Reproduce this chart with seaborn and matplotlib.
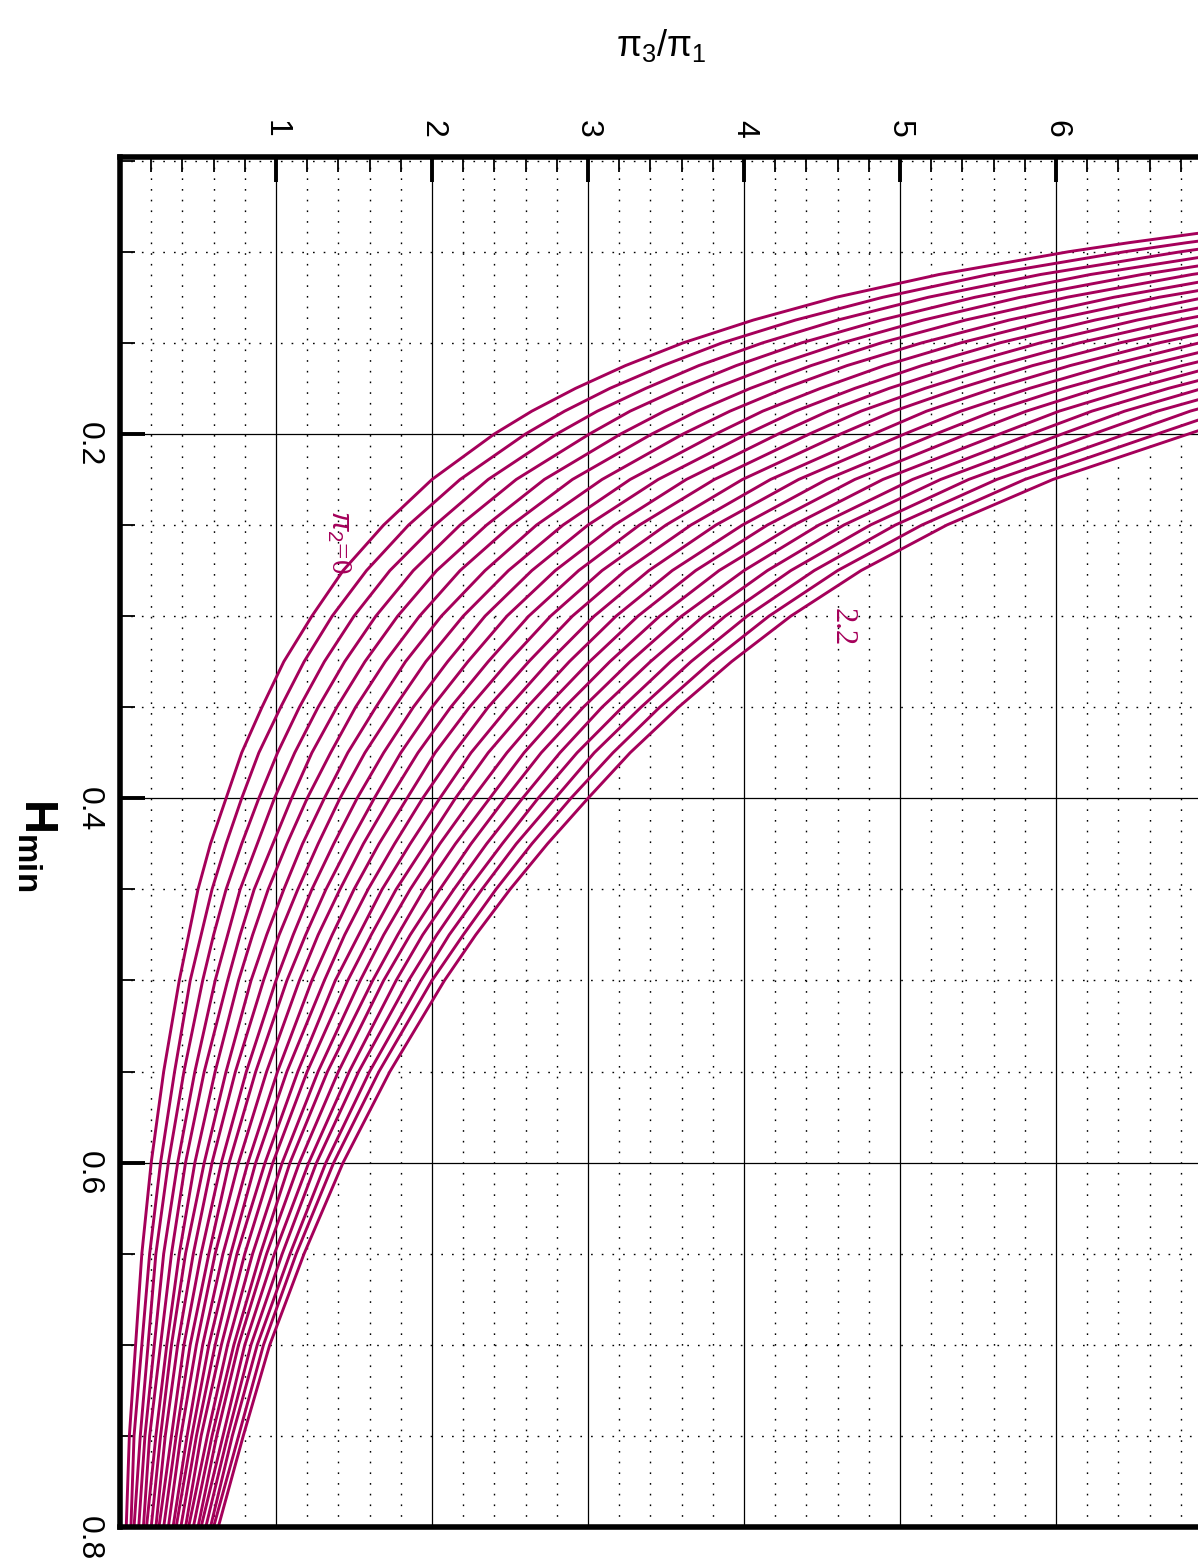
import numpy as np
import pandas as pd
import seaborn as sns
import matplotlib.pyplot as plt
from matplotlib.ticker import MultipleLocator

nan = np.nan

# curve family: pi2 = 0 ... 2.2
pi2_values = [0.0, 0.1, 0.2, 0.3, 0.4, 0.5, 0.6, 0.7, 0.8, 0.9, 1.0, 1.1,
              1.2, 1.3, 1.4, 1.5, 1.6, 1.7, 1.8, 1.9, 2.0, 2.1, 2.2]

# H_min levels where the curves were read
h_rows = [0.8, 0.75, 0.7, 0.65, 0.6, 0.55, 0.5, 0.475, 0.45, 0.425, 0.4, 0.375,
          0.35, 0.325, 0.3, 0.275, 0.25, 0.225, 0.2, 0.1875, 0.175, 0.1625,
          0.15, 0.1375, 0.125, 0.1125, 0.1, 0.095, 0.09, 0.08]

# pi3/pi1 of each curve at each H_min level (one list per level, pi2 = 0 .. 2.2)
x_h0800 = [0.04, 0.07, 0.09, 0.12, 0.15, 0.17, 0.20, 0.23, 0.25, 0.28, 0.31, 0.34,
           0.36, 0.39, 0.42, 0.44, 0.47, 0.50, 0.52, 0.55, 0.58, 0.60, 0.63]
x_h0750 = [0.06, 0.09, 0.13, 0.16, 0.19, 0.23, 0.26, 0.29, 0.33, 0.36, 0.39, 0.43,
           0.46, 0.49, 0.52, 0.56, 0.59, 0.62, 0.66, 0.69, 0.72, 0.76, 0.79]
x_h0700 = [0.10, 0.14, 0.18, 0.22, 0.26, 0.30, 0.33, 0.37, 0.41, 0.45, 0.49, 0.53,
           0.57, 0.61, 0.65, 0.69, 0.73, 0.76, 0.80, 0.84, 0.88, 0.92, 0.96]
x_h0650 = [0.14, 0.19, 0.23, 0.28, 0.33, 0.38, 0.42, 0.47, 0.52, 0.57, 0.61, 0.66,
           0.71, 0.75, 0.80, 0.85, 0.90, 0.94, 0.99, 1.04, 1.09, 1.13, 1.18]
x_h0600 = [0.20, 0.26, 0.31, 0.37, 0.42, 0.48, 0.54, 0.59, 0.65, 0.70, 0.76, 0.82,
           0.87, 0.93, 0.98, 1.04, 1.09, 1.15, 1.21, 1.26, 1.32, 1.37, 1.43]
x_h0550 = [0.28, 0.35, 0.41, 0.48, 0.54, 0.61, 0.68, 0.74, 0.81, 0.87, 0.94, 1.01,
           1.07, 1.14, 1.20, 1.27, 1.33, 1.40, 1.47, 1.53, 1.60, 1.66, 1.73]
x_h0500 = [0.38, 0.45, 0.53, 0.61, 0.69, 0.76, 0.84, 0.92, 1.00, 1.07, 1.15, 1.23,
           1.31, 1.38, 1.46, 1.54, 1.62, 1.69, 1.77, 1.85, 1.93, 2.00, 2.08]
x_h0475 = [0.44, 0.52, 0.60, 0.69, 0.77, 0.85, 0.94, 1.02, 1.11, 1.19, 1.27, 1.36,
           1.44, 1.53, 1.61, 1.69, 1.78, 1.86, 1.94, 2.03, 2.11, 2.20, 2.28]
x_h0450 = [0.50, 0.59, 0.68, 0.77, 0.86, 0.95, 1.05, 1.14, 1.23, 1.32, 1.41, 1.50,
           1.59, 1.68, 1.77, 1.86, 1.95, 2.05, 2.14, 2.23, 2.32, 2.41, 2.50]
x_h0425 = [0.58, 0.68, 0.78, 0.88, 0.98, 1.07, 1.17, 1.27, 1.37, 1.47, 1.56, 1.66,
           1.76, 1.86, 1.96, 2.05, 2.15, 2.25, 2.35, 2.45, 2.54, 2.64, 2.74]
x_h0400 = [0.68, 0.78, 0.89, 0.99, 1.10, 1.20, 1.31, 1.41, 1.52, 1.63, 1.73, 1.84,
           1.94, 2.05, 2.15, 2.26, 2.37, 2.47, 2.58, 2.68, 2.79, 2.89, 3.00]
x_h0375 = [0.78, 0.89, 1.01, 1.12, 1.23, 1.35, 1.46, 1.57, 1.69, 1.80, 1.91, 2.02,
           2.14, 2.25, 2.36, 2.48, 2.59, 2.70, 2.82, 2.93, 3.04, 3.16, 3.27]
x_h0350 = [0.91, 1.03, 1.15, 1.27, 1.39, 1.51, 1.64, 1.76, 1.88, 2.00, 2.12, 2.24,
           2.36, 2.49, 2.61, 2.73, 2.85, 2.97, 3.09, 3.22, 3.34, 3.46, 3.58]
x_h0325 = [1.05, 1.18, 1.31, 1.44, 1.57, 1.70, 1.83, 1.96, 2.10, 2.23, 2.36, 2.49,
           2.62, 2.75, 2.88, 3.01, 3.14, 3.27, 3.40, 3.53, 3.66, 3.79, 3.92]
x_h0300 = [1.23, 1.36, 1.50, 1.64, 1.78, 1.92, 2.06, 2.20, 2.34, 2.48, 2.62, 2.76,
           2.90, 3.04, 3.18, 3.32, 3.46, 3.60, 3.74, 3.88, 4.02, 4.16, 4.30]
x_h0275 = [1.43, 1.58, 1.73, 1.88, 2.03, 2.18, 2.34, 2.49, 2.64, 2.79, 2.94, 3.09,
           3.24, 3.39, 3.54, 3.69, 3.84, 4.00, 4.15, 4.30, 4.45, 4.60, 4.75]
x_h0250 = [1.69, 1.85, 2.02, 2.18, 2.35, 2.51, 2.67, 2.84, 3.00, 3.17, 3.33, 3.50,
           3.66, 3.82, 3.99, 4.15, 4.32, 4.48, 4.64, 4.81, 4.97, 5.14, 5.30]
x_h0225 = [2.00, 2.18, 2.36, 2.54, 2.72, 2.90, 3.09, 3.27, 3.45, 3.63, 3.81, 3.99,
           4.17, 4.35, 4.53, 4.71, 4.89, 5.08, 5.26, 5.44, 5.62, 5.80, 5.98]
x_h0200 = [2.40, 2.60, 2.80, 3.01, 3.21, 3.41, 3.61, 3.82, 4.02, 4.22, 4.42, 4.62,
           4.83, 5.03, 5.23, 5.43, 5.64, 5.84, 6.04, 6.24, 6.45, 6.65, 6.85]
x_h01875 = [2.64, 2.85, 3.06, 3.27, 3.49, 3.70, 3.91, 4.12, 4.33, 4.54, 4.75, 4.96,
            5.17, 5.39, 5.60, 5.81, 6.02, 6.23, 6.44, 6.65, 6.86, 7.08, 7.29]
x_h0175 = [2.92, 3.14, 3.37, 3.59, 3.81, 4.04, 4.26, 4.49, 4.71, 4.93, 5.16, 5.38,
           5.60, 5.83, 6.05, 6.27, 6.50, 6.72, 6.94, 7.17, 7.39, nan, nan]
x_h01625 = [3.24, 3.48, 3.71, 3.95, 4.19, 4.43, 4.66, 4.90, 5.14, 5.38, 5.62, 5.85,
            6.09, 6.33, 6.57, 6.81, 7.04, 7.28, nan, nan, nan, nan, nan]
x_h0150 = [3.61, 3.86, 4.12, 4.37, 4.63, 4.88, 5.14, 5.39, 5.64, 5.90, 6.15, 6.41,
           6.66, 6.92, 7.17, 7.42, nan, nan, nan, nan, nan, nan, nan]
x_h01375 = [4.06, 4.33, 4.60, 4.88, 5.15, 5.42, 5.70, 5.97, 6.25, 6.52, 6.79, 7.07,
            7.34, nan, nan, nan, nan, nan, nan, nan, nan, nan, nan]
x_h0125 = [4.59, 4.89, 5.18, 5.48, 5.77, 6.07, 6.37, 6.66, 6.96, 7.26, 7.55, nan,
           nan, nan, nan, nan, nan, nan, nan, nan, nan, nan, nan]
x_h01125 = [5.25, 5.57, 5.90, 6.22, 6.55, 6.87, 7.19, 7.52, nan, nan, nan, nan,
            nan, nan, nan, nan, nan, nan, nan, nan, nan, nan, nan]
x_h0100 = [6.08, 6.44, 6.80, 7.15, 7.51, 7.87, nan, nan, nan, nan, nan, nan,
           nan, nan, nan, nan, nan, nan, nan, nan, nan, nan, nan]
x_h0095 = [6.47, 6.84, 7.21, nan, nan, nan, nan, nan, nan, nan, nan, nan,
           nan, nan, nan, nan, nan, nan, nan, nan, nan, nan, nan]
x_h0090 = [6.90, 7.29, nan, nan, nan, nan, nan, nan, nan, nan, nan, nan,
           nan, nan, nan, nan, nan, nan, nan, nan, nan, nan, nan]
x_h0080 = [7.94, nan, nan, nan, nan, nan, nan, nan, nan, nan, nan, nan,
           nan, nan, nan, nan, nan, nan, nan, nan, nan, nan, nan]

x_rows = [x_h0800, x_h0750, x_h0700, x_h0650, x_h0600, x_h0550, x_h0500,
          x_h0475, x_h0450, x_h0425, x_h0400, x_h0375, x_h0350, x_h0325,
          x_h0300, x_h0275, x_h0250, x_h0225, x_h0200, x_h01875, x_h0175,
          x_h01625, x_h0150, x_h01375, x_h0125, x_h01125, x_h0100, x_h0095,
          x_h0090, x_h0080]

x_ticks = [1, 2, 3, 4, 5, 6]
y_ticks = [0.2, 0.4, 0.6, 0.8]

# long table for seaborn
records = []
for k, p in enumerate(pi2_values):
    for h, row in zip(h_rows, x_rows):
        if not np.isnan(row[k]):
            records.append({'pi2': p, 'H': h, 'ratio': row[k]})
df = pd.DataFrame(records)

sns.set_theme(style='white')
plt.rcParams['font.family'] = ['Liberation Sans', 'DejaVu Sans']
plt.rcParams['text.color'] = 'black'
plt.rcParams['mathtext.fontset'] = 'custom'
plt.rcParams['mathtext.rm'] = 'Liberation Sans'
plt.rcParams['mathtext.it'] = 'Liberation Sans:italic'
plt.rcParams['mathtext.bf'] = 'Liberation Sans:bold'

curve_color = '#A5005A'

fig = plt.figure(figsize=(11.98, 15.58), dpi=100)
ax = fig.add_axes([120 / 1198, 31 / 1558, 1 - 120 / 1198, 1370 / 1558])

sns.lineplot(data=df, x='ratio', y='H', units='pi2', estimator=None, sort=False,
             color=curve_color, linewidth=2.1, ax=ax)

ax.set_xlim(0, 6.91)
ax.set_ylim(0.8, 0.048)

ax.set_xticks(x_ticks)
ax.set_xticklabels([str(t) for t in x_ticks])
ax.set_yticks(y_ticks)
ax.set_yticklabels([str(t) for t in y_ticks])
ax.xaxis.set_minor_locator(MultipleLocator(0.2))
ax.yaxis.set_minor_locator(MultipleLocator(0.05))

ax.xaxis.set_ticks_position('top')
ax.tick_params(axis='x', which='both', direction='in', top=True, bottom=False,
               labeltop=True, labelbottom=False, labelrotation=-90,
               colors='black', labelcolor='black')
ax.tick_params(axis='x', which='major', length=18, width=2.8, pad=14, labelsize=23)
ax.tick_params(axis='x', which='minor', length=11, width=1.3)
ax.tick_params(axis='y', which='both', direction='in', left=True, right=False,
               labelrotation=-90, colors='black', labelcolor='black')
ax.tick_params(axis='y', which='major', length=18, width=2.8, pad=12, labelsize=23)
ax.tick_params(axis='y', which='minor', length=11, width=1.3)

ax.set_axisbelow(True)
ax.grid(which='major', color='black', linewidth=0.9, linestyle='-')
ax.grid(which='minor', color='black', linewidth=1.0, linestyle=(0, (1.2, 6.5)))

for side in ['left', 'top', 'bottom']:
    ax.spines[side].set_linewidth(4)
    ax.spines[side].set_color('black')
ax.spines['right'].set_visible(False)

ax.set_xlabel('')
ax.set_ylabel('')

# curve labels
ax.text(1.40, 0.259, r'$\pi_2$=0', color=curve_color, rotation=-90,
        fontsize=21, family='Liberation Serif', ha='center', va='center')
ax.text(4.63, 0.306, '2.2', color=curve_color, rotation=-90,
        fontsize=22, family='Liberation Serif', ha='center', va='center')

# axis titles
fig.text(661 / 1198, 1 - 45 / 1558, r'$\mathrm{\pi}_3/\mathrm{\pi}_1$',
         fontsize=26, ha='center', va='center', color='black')
fig.text(36 / 1198, 1 - 845 / 1558, r'$\mathbf{H}_{\mathbf{min}}$',
         fontsize=34, rotation=-90, ha='center', va='center', color='black')

fig.savefig('out.png', dpi=100)
